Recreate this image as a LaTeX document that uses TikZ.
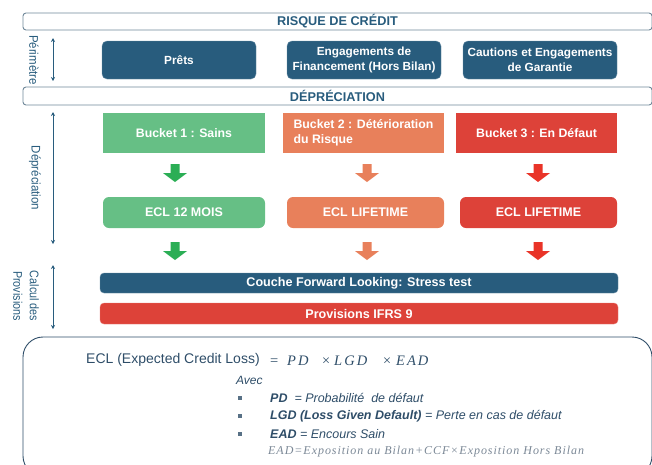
\documentclass[tikz,border=0pt]{standalone}
\usepackage{fontspec}
\setmainfont{Liberation Sans}
\newfontfamily\serifit{Liberation Serif}
\usetikzlibrary{arrows.meta}
\definecolor{dblue}{HTML}{285C7D}
\definecolor{bgreen}{HTML}{66BF85}
\definecolor{agreen}{HTML}{2BAE55}
\definecolor{borange}{HTML}{E8805B}
\definecolor{bred}{HTML}{DD4239}
\definecolor{ared}{HTML}{E93428}
\definecolor{bordc}{HTML}{6F8799}
\definecolor{textc}{HTML}{2E4D68}
\definecolor{greyc}{HTML}{7B8896}
\tikzset{
  banner/.style={draw=bordc, line width=0.9pt, rounded corners=3pt, inner sep=0pt, text=dblue,
     font=\fontsize{12.7}{14}\selectfont\bfseries},
  bluebox/.style={fill=dblue, draw=dblue!70!white, rounded corners=5pt, text=white, align=center, inner sep=0pt,
     font=\fontsize{11.8}{15}\selectfont\bfseries},
  bucket/.style={inner sep=0pt, text=white, font=\fontsize{12.3}{15}\selectfont\bfseries},
  eclbox/.style={rounded corners=6pt, inner sep=0pt, text=white, font=\fontsize{12.5}{15}\selectfont\bfseries},
  sidearrow/.style={{Stealth[length=4pt,width=4pt]}-{Stealth[length=4pt,width=4pt]}, dblue, line width=0.8pt},
  sidelabel/.style={rotate=-90, text=dblue, font=\fontsize{12.5}{16.5}\selectfont, align=center, inner sep=0pt},
  bul/.style={fill=textc!80!white, minimum size=3.5pt, inner sep=0pt},
  btxt/.style={anchor=west, text=textc, font=\fontsize{12.5}{14}\selectfont\itshape, inner sep=0pt}
}
\newcommand\blockdown[3]{\fill[#1] (#2,#3) ++(-4.5,0) -- ++(9,0) -- ++(0,9) -- ++(7.5,0) -- ++(-12,9) -- ++(-12,-9) -- ++(7.5,0) -- cycle;}
\begin{document}
\begin{tikzpicture}[x=1pt,y=-1pt]
\useasboundingbox (0,0) rectangle (652,464);
% banners
\node[banner, minimum width=629pt, minimum height=17pt] (risque) at (337.5,21.5) {RISQUE DE CRÉDIT};
\node[banner, minimum width=629pt, minimum height=18pt] (deprec) at (337.5,96) {DÉPRÉCIATION};
% perimetre
\coordinate (p1) at (53,38); \coordinate (p2) at (53,81);
\draw[sidearrow] (p1) -- (p2);
\node[sidelabel] (lperim) at (34,60) {\scalebox{0.92}[1]{Périmètre}};
\node[bluebox, minimum width=154pt, minimum height=38pt] (prets) at (179,60) {Prêts};
\node[bluebox, minimum width=154pt, minimum height=38pt] (engag) at (364,60) {Engagements de\\Financement (Hors Bilan)};
\node[bluebox, minimum width=154pt, minimum height=38pt] (caut) at (540,60) {Cautions et Engagements\\de Garantie};
% depreciation
\coordinate (d1) at (53,112); \coordinate (d2) at (53,244);
\draw[sidearrow] (d1) -- (d2);
\node[sidelabel] (ldep) at (35,178) {\scalebox{0.92}[1]{Dépréciation}};
\node[bucket, fill=bgreen, minimum width=162pt, minimum height=40pt] (b1) at (184,133) {Bucket 1 : Sains};
\node[bucket, fill=borange, minimum width=161pt, minimum height=40pt, align=left] (b2) at (363.5,133) {Bucket 2 : Détérioration\\du Risque};
\node[bucket, fill=bred, minimum width=161pt, minimum height=40pt] (b3) at (536.5,133) {Bucket 3 : En Défaut};
\blockdown{agreen}{175}{164}
\blockdown{borange}{367}{164}
\blockdown{ared}{538}{164}
\node[eclbox, fill=bgreen, minimum width=162pt, minimum height=31pt] (e1) at (184,212.5) {ECL 12 MOIS};
\node[eclbox, fill=borange, minimum width=157pt, minimum height=31pt] (e2) at (365.5,212.5) {ECL LIFETIME};
\node[eclbox, fill=bred, minimum width=157pt, minimum height=31pt] (e3) at (538.5,212.5) {ECL LIFETIME};
\blockdown{agreen}{175}{242}
\blockdown{borange}{367}{242}
\blockdown{ared}{538}{242}
% calcul
\coordinate (c1) at (53,265); \coordinate (c2) at (53,329);
\draw[sidearrow] (c1) -- (c2);
\node[sidelabel] (lcalc) at (26,296) {\scalebox{0.86}[1]{Calcul des}\\\scalebox{0.86}[1]{Provisions}};
\node[bluebox, rounded corners=4pt, minimum width=518pt, minimum height=20pt, font=\fontsize{12.6}{15}\selectfont\bfseries] (couche) at (359,283) {Couche Forward Looking: Stress test};
\node[bluebox, fill=bred, draw=bred!70!white, rounded corners=4pt, minimum width=518pt, minimum height=21pt, font=\fontsize{12.6}{15}\selectfont\bfseries] (prov) at (359,313.5) {Provisions IFRS 9};
% bottom box
\draw[draw=textc, line width=0.9pt, rounded corners=20pt] (23,337) rectangle (652,476);
\node[anchor=west, text=textc, font=\fontsize{14}{16}\selectfont, inner sep=0pt] (ecl) at (86,360) {ECL (Expected Credit Loss)};
\node[anchor=west, text=textc, font=\fontsize{14.5}{16}\selectfont\serifit, inner sep=0pt] (eclf) at (270,360.5)
  {\makebox[17pt][l]{=}\itshape\addfontfeature{LetterSpace=14}\makebox[34pt][l]{PD}\makebox[13pt][l]{×}\makebox[48pt][l]{LGD}\makebox[14pt][l]{×}EAD};
\node[anchor=west, text=textc, font=\fontsize{12}{14}\selectfont\itshape, inner sep=0pt] (avec) at (236,380) {Avec};
\node[bul] (s1) at (240,398) {};
\node[bul] (s2) at (240,416) {};
\node[bul] (s3) at (240,434) {};
\node[btxt] (t1) at (270,398) {{\bfseries PD} \ = Probabilité \ de défaut};
\node[btxt] (t2) at (270,416) {{\bfseries LGD (Loss Given Default)} = Perte en cas de défaut};
\node[btxt] (t3) at (270,434) {{\bfseries EAD} = Encours Sain};
\node[anchor=west, text=greyc, font=\fontsize{12}{13}\selectfont\serifit\itshape\addfontfeature{LetterSpace=8}, inner sep=0pt] (t4) at (268,452) {EAD=Exposition au Bilan+CCF×Exposition Hors Bilan};
\end{tikzpicture}
\end{document}
